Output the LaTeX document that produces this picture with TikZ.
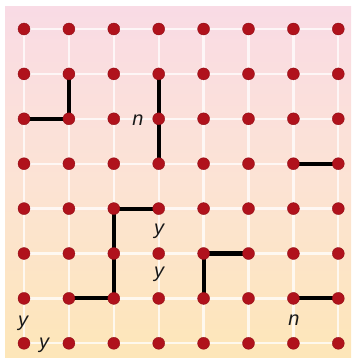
\documentclass[tikz,border=0pt]{standalone}
\usepackage{fontspec}
\setmainfont{Liberation Sans}
\usepackage{tikz}

\definecolor{dotred}{RGB}{176,18,28}
\definecolor{bgtop}{RGB}{249,219,229}
\definecolor{bgmid}{RGB}{252,227,212}
\definecolor{bgbot}{RGB}{253,230,184}

\begin{document}
\begin{tikzpicture}[x=0.03cm,y=-0.03cm,
   dot/.style={circle,fill=dotred,draw=dotred!80!black,line width=0.3pt,minimum size=0.36cm,inner sep=0pt},
   grid/.style={white,line width=2pt,opacity=0.75},
   bar/.style={black,line width=3.5pt},
   lab/.style={inner sep=0pt,font=\fontsize{17}{17}\selectfont\itshape,text=black!90}]
  \useasboundingbox (0,0) rectangle (351,358);
  % background
  \shade[top color=bgtop,bottom color=bgbot,middle color=bgmid] (5,6) rectangle (351,358);
  % grid points
  \foreach \i in {0,...,7}
    \foreach \j in {0,...,7}
      \coordinate (p\i\j) at ({24+44.9*\i},{29+44.9*\j});
  % white grid
  \foreach \i in {0,...,7} {
    \draw[grid] (p\i0) -- (p\i7);
    \draw[grid] (p0\i) -- (p7\i);
  }
  % segments
  \draw[bar] (p02) -- (p12) -- (p11);
  \draw[bar] (p31) -- (p33);
  \draw[bar] (p63) -- (p73);
  \draw[bar] (p34) -- (p24) -- (p26) -- (p16);
  \draw[bar] (p55) -- (p45) -- (p46);
  \draw[bar] (p66) -- (p76);
  % dots
  \foreach \i in {0,...,7}
    \foreach \j in {0,...,7}
      \node[dot] (d\i\j) at (p\i\j) {};
  % labels
  \node[lab] (n1) at (138,120) {n};
  \node[lab] (y1) at (159,231) {y};
  \node[lab] (y2) at (159,274) {y};
  \node[lab] (y3) at (23,323) {y};
  \node[lab] (y4) at (44,345) {y};
  \node[lab] (n2) at (294,320) {n};
\end{tikzpicture}
\end{document}
